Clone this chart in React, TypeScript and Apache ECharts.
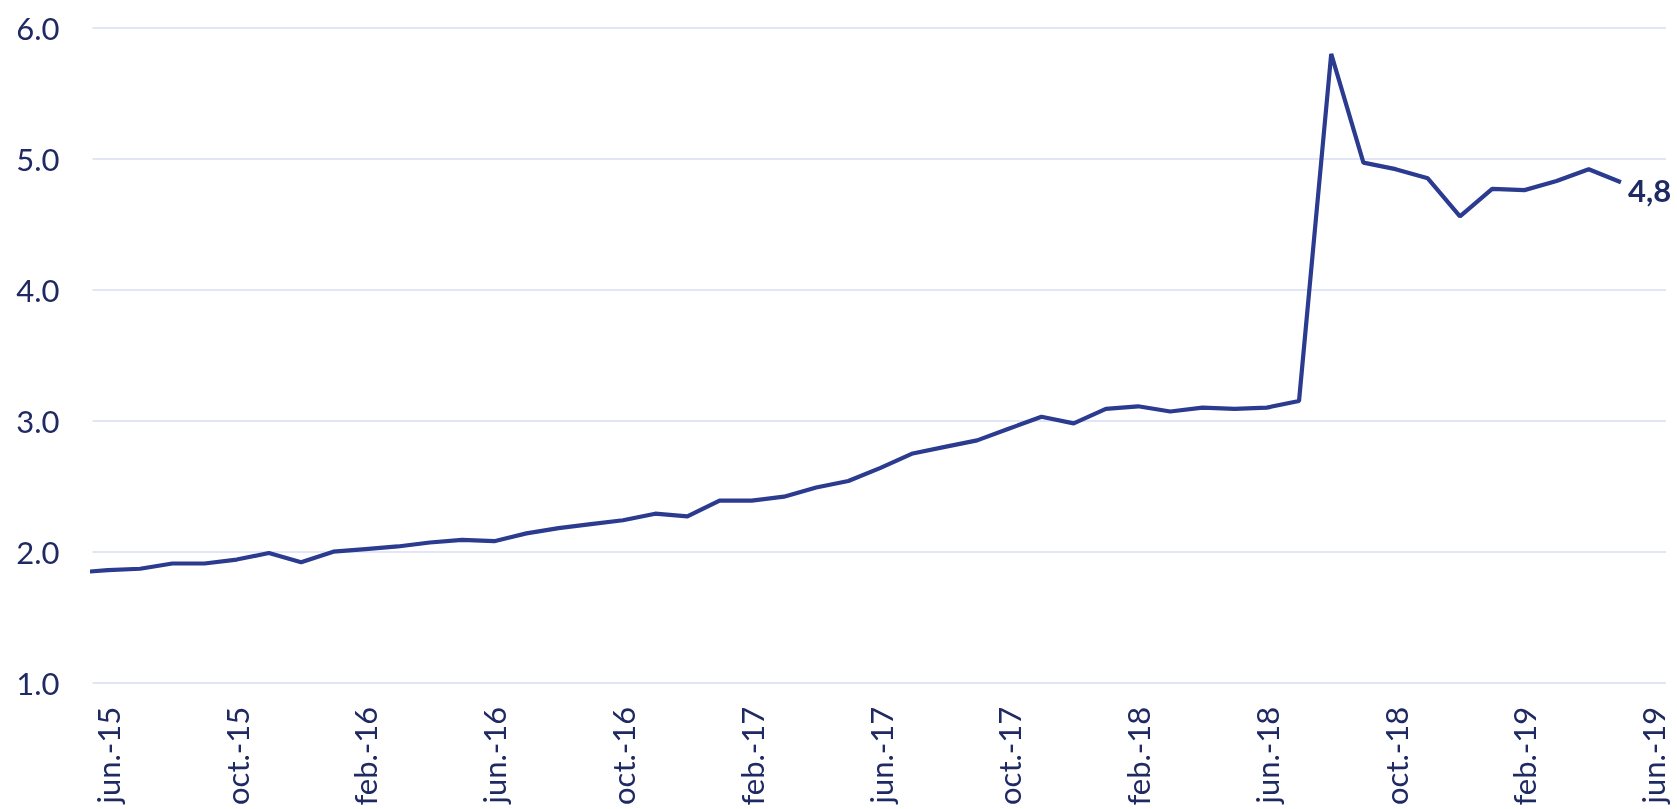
import React, { useEffect, useRef } from "react";
import * as echarts from "echarts";

// Monthly categories (index 0 = may.-15, the point just before the visible axis start)
const months: string[] = [
  "may.-15", "jun.-15", "jul.-15", "ago.-15", "sept.-15", "oct.-15", "nov.-15", "dic.-15",
  "ene.-16", "feb.-16", "mar.-16", "abr.-16", "may.-16", "jun.-16", "jul.-16", "ago.-16",
  "sept.-16", "oct.-16", "nov.-16", "dic.-16", "ene.-17", "feb.-17", "mar.-17", "abr.-17",
  "may.-17", "jun.-17", "jul.-17", "ago.-17", "sept.-17", "oct.-17", "nov.-17", "dic.-17",
  "ene.-18", "feb.-18", "mar.-18", "abr.-18", "may.-18", "jun.-18", "jul.-18", "ago.-18",
  "sept.-18", "oct.-18", "nov.-18", "dic.-18", "ene.-19", "feb.-19", "mar.-19", "abr.-19",
  "may.-19", "jun.-19",
];

const values: number[] = [
  1.84, 1.86, 1.87, 1.91, 1.91, 1.94, 1.99, 1.92,
  2.0, 2.02, 2.04, 2.07, 2.09, 2.08, 2.14, 2.18,
  2.21, 2.24, 2.29, 2.27, 2.39, 2.39, 2.42, 2.49,
  2.54, 2.64, 2.75, 2.8, 2.85, 2.94, 3.03, 2.98,
  3.09, 3.11, 3.07, 3.1, 3.09, 3.1, 3.15, 5.8,
  4.97, 4.92, 4.85, 4.56, 4.77, 4.76, 4.83, 4.92,
  4.82,
];

// Positions (in months from jun.-15) where x labels appear
const tickMonths: number[] = [0, 4, 8, 12, 16, 20, 24, 28, 32, 36, 40, 44, 48];

const yTicks = { min: 1, max: 6, interval: 1 };

const NAVY_TEXT = "#1f2a63";
const LINE = "#2b3b8f";
const FONT = "Lato, 'Open Sans', sans-serif";

export default function App() {
  const ref = useRef<HTMLDivElement>(null);

  useEffect(() => {
    if (!ref.current) return;
    const chart = echarts.init(ref.current, null, { renderer: "svg" });
    const data = values.map((v, i) => [i - 1, v]);

    chart.setOption({
      animation: false,
      textStyle: { fontFamily: FONT },
      grid: { left: 92.5, right: 11, top: 27.7, bottom: 126.3, containLabel: false },
      xAxis: {
        type: "value",
        min: -0.48,
        max: 48.4,
        axisLine: { show: false },
        axisTick: { show: false },
        splitLine: { show: false },
        axisLabel: {
          customValues: tickMonths,
          rotate: 90,
          margin: 24,
          fontSize: 31,
          fontFamily: FONT,
          color: NAVY_TEXT,
          formatter: (val: number) => months[Math.round(val) + 1] ?? "",
        },
      },
      yAxis: {
        type: "value",
        min: yTicks.min,
        max: yTicks.max,
        interval: yTicks.interval,
        axisLine: { show: false },
        axisTick: { show: false },
        splitLine: { lineStyle: { color: "#d9ddf2", width: 1.5 } },
        axisLabel: {
          margin: 33,
          fontSize: 31,
          fontFamily: FONT,
          color: NAVY_TEXT,
          formatter: (v: number) => v.toFixed(1),
        },
      },
      series: [
        {
          type: "line",
          data,
          symbol: "none",
          showSymbol: false,
          clip: true,
          lineStyle: { color: LINE, width: 4.2 },
          itemStyle: { color: LINE },
          endLabel: {
            show: true,
            distance: 7,
            offset: [0, 8],
            formatter: (p: any) => Number(p.value[1]).toFixed(1).replace(".", ","),
            fontFamily: FONT,
            fontWeight: "bold",
            fontSize: 31,
            color: NAVY_TEXT,
          },
        },
      ],
    });
    return () => chart.dispose();
  }, []);

  return (
    <div
      ref={ref}
      style={{ position: "fixed", left: 0, top: 0, width: 1677, height: 809 }}
    />
  );
}
